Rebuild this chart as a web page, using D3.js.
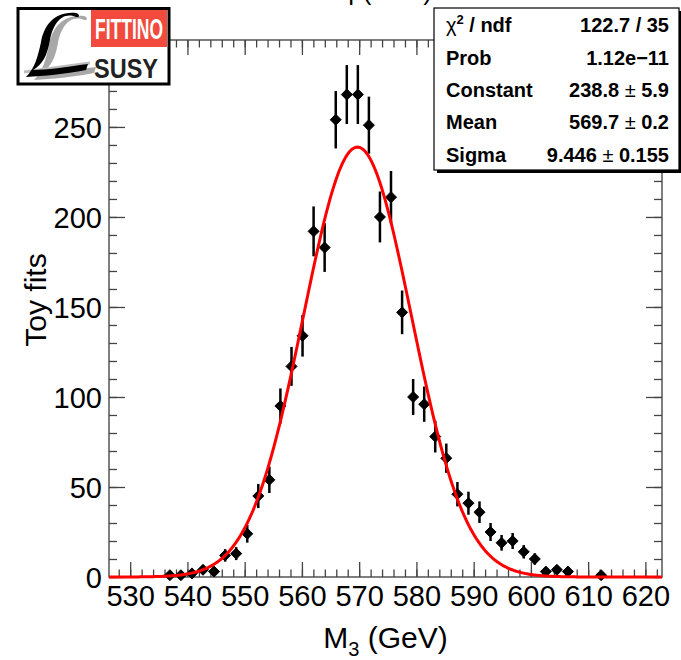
<!DOCTYPE html>
<html>
<head>
<meta charset="utf-8">
<script src="https://cdn.jsdelivr.net/npm/d3@7"></script>
<style>
  html, body { margin: 0; padding: 0; background: #fff; }
  svg { display: block; font-family: "Liberation Sans", Arial, Helvetica, sans-serif; }
</style>
</head>
<body>
<svg id="chart" width="681" height="660"></svg>
<script>
// Histogram of fitted M3 values from toy experiments (bin centres in GeV, entries per bin)
const binCenters = [536.93, 538.86, 540.79, 542.72, 544.65, 546.59, 548.52, 550.45, 552.38, 554.31,
                    556.24, 558.18, 560.11, 562.04, 563.97, 565.91, 567.84, 569.77, 571.70, 573.63,
                    575.56, 577.50, 579.43, 581.36, 583.29, 585.22, 587.16, 589.09, 591.02, 592.95,
                    594.88, 596.81, 598.75, 600.68, 602.61, 604.54, 606.47, 612.27];
const toyCounts  = [1, 1, 2, 4, 3, 12, 13, 24, 45, 54,
                    95, 117, 134, 192, 183, 254, 268, 268, 251, 200,
                    211, 147, 100, 96, 78, 66, 46, 41, 36, 25,
                    19, 20, 14, 10, 3, 4, 3, 1];

// Gaussian fit result
const fitConstant = 238.8;
const fitMean = 569.7;
const fitSigma = 9.446;

// Axis ranges and ticks
const xRange = [526.3, 622.9];
const yRange = [0, 298.3];
const xMajorTicks = [530, 540, 550, 560, 570, 580, 590, 600, 610, 620];
const yMajorTicks = [0, 50, 100, 150, 200, 250];

// Fit statistics panel
const statLabels = ["χ2 / ndf", "Prob", "Constant", "Mean", "Sigma"];
const statValues = [["122.7 / 35"], ["1.12e\u221211"], ["238.8", "5.9"], ["569.7", "0.2"], ["9.446", "0.155"]];

const svg = d3.select("#chart");
const frame = { left: 109, right: 662, top: 40, bottom: 577 };

const x = d3.scaleLinear().domain(xRange).range([frame.left, frame.right]);
const y = d3.scaleLinear().domain(yRange).range([frame.bottom, frame.top]);

// minor ticks: every 2 GeV on x, every 10 entries on y
const xMinorTicks = d3.range(528, 623, 2).filter(v => v >= xRange[0] && v <= xRange[1]);
const yMinorTicks = d3.range(0, 299, 10);

// Title (sits above the top edge)
svg.append("text")
  .attr("x", 432).attr("y", -0.5)
  .attr("text-anchor", "end")
  .style("font-size", "26px")
  .text("Mass fit p(GeV)");

// Frame
svg.append("rect")
  .attr("x", frame.left).attr("y", frame.top)
  .attr("width", frame.right - frame.left).attr("height", frame.bottom - frame.top)
  .attr("fill", "none").attr("stroke", "#555").attr("stroke-width", 1.5);

const axisColor = "#444";
function styleAxis(g) {
  g.select(".domain").remove();
  g.selectAll(".tick line").attr("stroke", axisColor).attr("stroke-width", 1.3);
}

// Bottom axis (ticks point inwards)
svg.append("g").attr("transform", `translate(0,${frame.bottom})`)
  .call(d3.axisBottom(x).tickValues(xMinorTicks).tickSize(-7.5).tickFormat(""))
  .call(styleAxis);
const xAxisG = svg.append("g").attr("transform", `translate(0,${frame.bottom})`)
  .call(d3.axisBottom(x).tickValues(xMajorTicks).tickSize(-15).tickFormat(d3.format("d")))
  .call(styleAxis);
xAxisG.selectAll(".tick text")
  .attr("y", 28.5).attr("dy", null)
  .attr("fill", "#000")
  .style("font-size", "29px")
  .style("font-family", "'Liberation Sans', Arial, sans-serif");

// Top axis (ticks only)
svg.append("g").attr("transform", `translate(0,${frame.top})`)
  .call(d3.axisTop(x).tickValues(xMinorTicks).tickSize(-7.5).tickFormat(""))
  .call(styleAxis);
svg.append("g").attr("transform", `translate(0,${frame.top})`)
  .call(d3.axisTop(x).tickValues(xMajorTicks).tickSize(-15).tickFormat(""))
  .call(styleAxis);

// Left axis
svg.append("g").attr("transform", `translate(${frame.left},0)`)
  .call(d3.axisLeft(y).tickValues(yMinorTicks).tickSize(-8).tickFormat(""))
  .call(styleAxis);
const yAxisG = svg.append("g").attr("transform", `translate(${frame.left},0)`)
  .call(d3.axisLeft(y).tickValues(yMajorTicks).tickSize(-16).tickFormat(d3.format("d")))
  .call(styleAxis);
yAxisG.selectAll(".tick text")
  .attr("x", -7).attr("dy", "0.36em")
  .attr("fill", "#000")
  .style("font-size", "29px")
  .style("font-family", "'Liberation Sans', Arial, sans-serif");

// Right axis (ticks only)
svg.append("g").attr("transform", `translate(${frame.right},0)`)
  .call(d3.axisRight(y).tickValues(yMinorTicks).tickSize(-8).tickFormat(""))
  .call(styleAxis);
svg.append("g").attr("transform", `translate(${frame.right},0)`)
  .call(d3.axisRight(y).tickValues(yMajorTicks).tickSize(-16).tickFormat(""))
  .call(styleAxis);

// Axis titles
const xTitle = svg.append("text")
  .attr("x", (frame.left + frame.right) / 2).attr("y", 648)
  .attr("text-anchor", "middle")
  .style("font-size", "30px");
xTitle.append("tspan").text("M");
xTitle.append("tspan").attr("dy", 8).style("font-size", "20px").text("3");
xTitle.append("tspan").attr("dy", -8).text(" (GeV)");

svg.append("text")
  .attr("transform", "translate(46,300) rotate(-90)")
  .attr("text-anchor", "middle")
  .style("font-size", "30px")
  .text("Toy fits");

// Data points with Poisson error bars
const points = binCenters.map((c, i) => ({ m: c, n: toyCounts[i], e: Math.sqrt(toyCounts[i]) }));
const dataG = svg.append("g");
dataG.selectAll("line.err").data(points).join("line")
  .attr("class", "err")
  .attr("x1", d => x(d.m)).attr("x2", d => x(d.m))
  .attr("y1", d => y(d.n - d.e)).attr("y2", d => y(d.n + d.e))
  .attr("stroke", "#000").attr("stroke-width", 2.5);
const diamond = "M0,-5.5 L5.5,0 L0,5.5 L-5.5,0 Z";
dataG.selectAll("path.pt").data(points).join("path")
  .attr("class", "pt")
  .attr("d", diamond)
  .attr("transform", d => `translate(${x(d.m)},${y(d.n)})`)
  .attr("fill", "#000").attr("stroke", "#000").attr("stroke-width", 1).attr("stroke-linejoin", "round");

// Gaussian fit curve
const gauss = m => fitConstant * Math.exp(-0.5 * Math.pow((m - fitMean) / fitSigma, 2));
const curveX = d3.range(xRange[0], xRange[1] + 0.001, 0.2);
svg.append("path")
  .datum(curveX)
  .attr("d", d3.line().x(m => x(m)).y(m => y(gauss(m))))
  .attr("fill", "none").attr("stroke", "#ff0000").attr("stroke-width", 3);

// Statistics panel with shadow
const box = { x: 434, y: 8, w: 245, h: 162 };
svg.append("rect").attr("x", box.x + 3).attr("y", box.y + 3).attr("width", box.w).attr("height", box.h).attr("fill", "#000");
svg.append("rect").attr("x", box.x).attr("y", box.y).attr("width", box.w).attr("height", box.h)
  .attr("fill", "#fff").attr("stroke", "#000").attr("stroke-width", 1.2);
const rowH = box.h / statLabels.length;
statLabels.forEach((lab, k) => {
  const yBase = box.y + rowH * (k + 0.5) + 8;
  const t = svg.append("text").attr("x", 446).attr("y", yBase)
    .style("font-size", "20px").style("font-weight", "bold");
  if (k === 0) {
    t.append("tspan").style("font-weight", "normal").text("χ");
    t.append("tspan").attr("dy", -8).style("font-size", "13px").text("2");
    t.append("tspan").attr("dy", 8).text(" / ndf");
  } else {
    t.text(lab);
  }
  const v = svg.append("text").attr("x", 669).attr("y", yBase)
    .attr("text-anchor", "end")
    .style("font-size", "20px").style("font-weight", "bold");
  const parts = statValues[k];
  if (parts.length === 1) {
    v.text(parts[0]);
  } else {
    v.append("tspan").text(parts[0]);
    v.append("tspan").style("font-weight", "normal").text(" \u00b1 ");
    v.append("tspan").text(parts[1]);
  }
});

// Logo
const logo = svg.append("g");
logo.append("rect").attr("x", 18).attr("y", 8.5).attr("width", 151).attr("height", 75.5)
  .attr("fill", "#fff").attr("stroke", "#000").attr("stroke-width", 3);
logo.append("rect").attr("x", 91).attr("y", 10).attr("width", 76).attr("height", 37).attr("fill", "#f24a3d");
logo.append("text").attr("x", 95).attr("y", 39)
  .attr("textLength", 68).attr("lengthAdjust", "spacingAndGlyphs")
  .style("font-size", "29px").style("font-weight", "bold").attr("fill", "#fff").text("FITTINO");
logo.append("text").attr("x", 94).attr("y", 78)
  .attr("textLength", 64).attr("lengthAdjust", "spacingAndGlyphs")
  .style("font-size", "27px").style("font-weight", "bold").attr("fill", "#222").text("SUSY");
// calligraphic L with grey shadow strokes
const scriptL = "M76,17 C62,11 53,24 50,40 C47,56 43,64 33,70 C46,70 66,67 88,64 L86,70 C64,74 44,76 26,77 " +
                "C35,68 38,56 41,42 C44,26 54,11 76,13 C80,14 80,18 76,17 Z";
logo.append("path").attr("d", scriptL).attr("transform", "translate(8,3)").attr("fill", "#a8a8a8");
logo.append("path").attr("d", "M24,72 C40,70 62,67 90,63").attr("fill", "none")
  .attr("stroke", "#bdbdbd").attr("stroke-width", 3);
logo.append("path").attr("d", scriptL).attr("fill", "#000");
</script>
</body>
</html>
